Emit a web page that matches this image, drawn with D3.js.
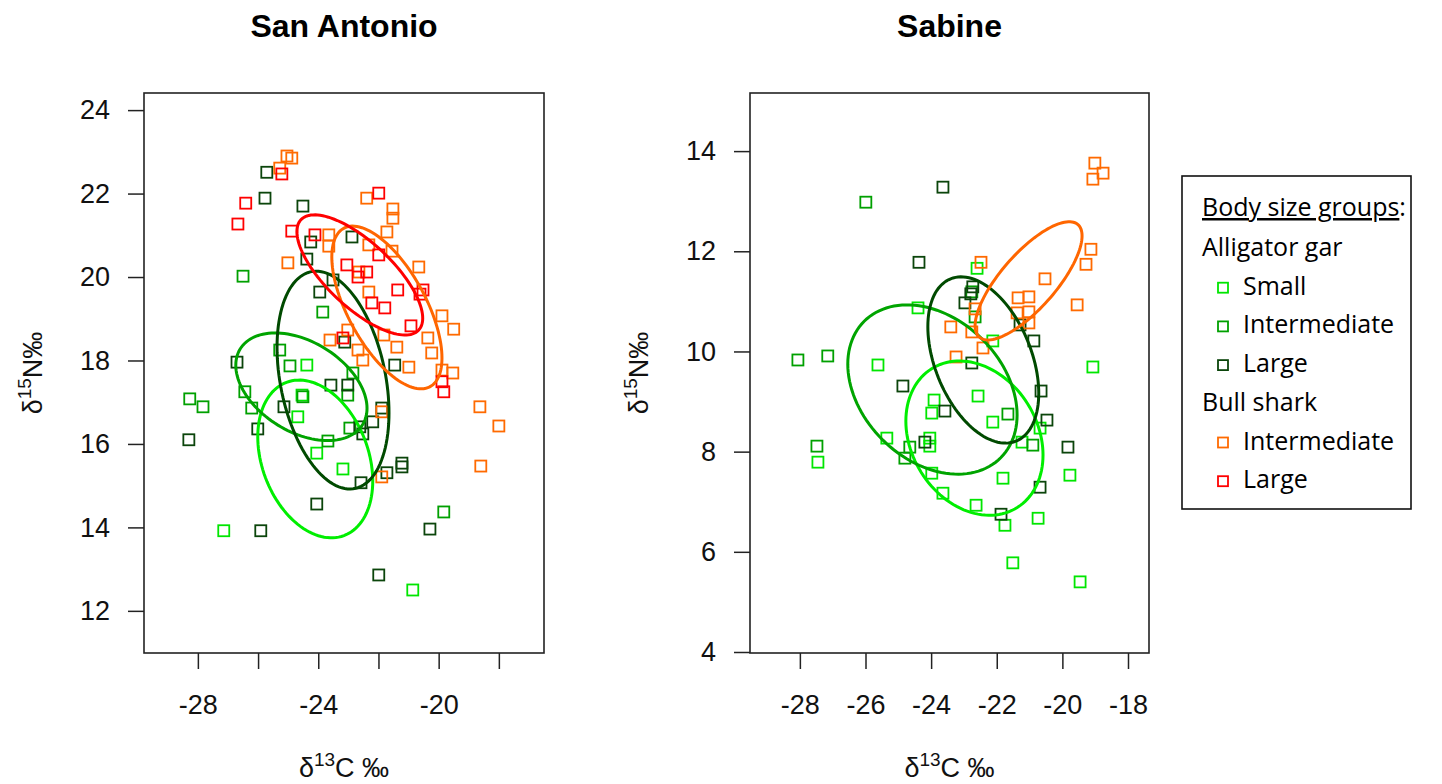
<!DOCTYPE html>
<html>
<head>
<meta charset="utf-8">
<script src="https://cdn.jsdelivr.net/npm/d3@7/dist/d3.min.js"></script>
<style>
  body { margin: 0; background: #fff; }
  svg { display: block; }
</style>
</head>
<body>
<svg id="chart" width="1442" height="784"></svg>
<script>
// ---- axis limits, ticks and tick labels ----
const saXDomain = [-29.79, -16.5];
const saYDomain = [10.99, 24.41];
const sbXDomain = [-29.52, -17.36];
const sbYDomain = [3.98, 15.16];
const xTicks = [-28, -26, -24, -22, -20, -18];
const saXTickLabels = ["-28", "", "-24", "", "-20", ""];
const sbXTickLabels = ["-28", "-26", "-24", "-22", "-20", "-18"];
const saYTicks = [12, 14, 16, 18, 20, 22, 24];
const sbYTicks = [4, 6, 8, 10, 12, 14];

const panelTitles = ["San Antonio", "Sabine"];

// ---- San Antonio: [d13C, d15N] ----
const saGarSmall = [[-24.38,17.89],[-24.68,16.65],[-24.05,15.78],[-23.18,15.40],[-27.14,13.92],
  [-20.86,12.50],[-24.54,17.17]];
const saGarInter = [[-26.50,20.02],[-23.85,19.16],[-24.94,17.87],[-26.44,17.25],[-28.27,17.08],
  [-27.83,16.89],[-26.21,16.86],[-24.51,17.13],[-25.28,18.25],[-22.85,17.70],[-22.95,16.38],
  [-19.83,14.37],[-23.02,17.17],[-23.68,16.07]];
const saGarLarge = [[-25.71,22.51],[-25.77,21.89],[-24.51,21.70],[-24.25,20.84],[-24.38,20.43],
  [-23.95,19.64],[-23.51,19.93],[-22.88,20.96],[-26.70,17.96],[-23.58,17.41],[-25.14,16.89],
  [-26.01,16.36],[-28.30,16.10],[-24.05,14.56],[-25.91,13.92],[-21.46,17.89],[-21.89,16.86],
  [-22.19,16.53],[-22.62,16.41],[-22.52,16.24],[-22.58,15.07],[-21.22,15.54],[-21.22,15.45],
  [-21.72,15.31],[-20.29,13.96],[-21.99,12.86],[-23.12,18.44],[-23.02,17.41]];
const saSharkInter = [[-25.04,22.90],[-24.88,22.85],[-25.28,22.61],[-22.39,21.89],[-21.52,21.63],
  [-21.52,21.41],[-21.72,21.08],[-22.32,20.77],[-21.55,20.62],[-20.66,20.24],[-22.65,20.12],
  [-22.32,19.64],[-19.89,19.07],[-19.50,18.75],[-20.36,18.54],[-21.39,18.32],[-21.82,18.61],
  [-23.02,18.73],[-23.65,21.01],[-23.65,20.74],[-25.01,20.34],[-23.61,18.49],[-18.63,16.89],
  [-18.00,16.43],[-18.60,15.47],[-21.89,15.21],[-20.23,18.18],[-22.52,18.01],[-22.68,18.25],
  [-20.99,17.84],[-19.89,17.77],[-19.53,17.70],[-21.89,16.77]];
const saSharkLarge = [[-26.41,21.77],[-26.67,21.27],[-25.21,22.47],[-24.88,21.10],[-24.11,21.01],
  [-21.99,22.01],[-21.99,20.53],[-23.05,20.29],[-22.68,20.00],[-22.39,20.12],[-21.36,19.69],
  [-22.22,19.38],[-21.79,19.26],[-20.52,19.69],[-20.62,19.59],[-20.92,18.83],[-23.18,18.54],
  [-19.89,17.49],[-19.83,17.25]];

// ---- Sabine: [d13C, d15N] ----
const sbGarSmall = [[-24.40,10.87],[-25.62,9.73],[-27.45,7.79],[-25.35,8.27],[-24.04,8.11],
  [-24.04,8.27],[-23.91,9.03],[-23.98,8.77],[-23.98,7.57],[-23.64,7.17],[-19.07,9.69],
  [-22.57,9.11],[-22.12,8.59],[-20.68,8.47],[-21.23,8.19],[-19.77,7.53],[-21.81,7.47],
  [-22.63,6.93],[-21.75,6.53],[-20.74,6.67],[-21.51,5.78],[-19.46,5.40],[-22.60,11.66],
  [-22.12,10.21]];
const sbGarInter = [[-25.99,12.98],[-28.06,9.83],[-27.15,9.91],[-27.48,8.11],[-24.65,8.09],
  [-21.66,8.75],[-20.90,8.13],[-22.76,11.19],[-22.66,10.69],[-24.80,7.87]];
const sbGarLarge = [[-23.64,13.28],[-24.37,11.78],[-22.73,11.29],[-22.79,11.15],[-22.97,10.97],
  [-21.29,10.53],[-20.87,10.21],[-22.76,9.77],[-24.86,9.31],[-24.19,8.19],[-23.58,8.81],
  [-20.65,9.21],[-20.47,8.63],[-19.83,8.09],[-20.68,7.29],[-21.87,6.75]];
const sbSharkInter = [[-19.01,13.76],[-18.76,13.56],[-19.07,13.44],[-19.13,12.04],[-19.28,11.74],
  [-20.53,11.45],[-19.55,10.93],[-21.35,11.07],[-21.02,11.09],[-21.02,10.79],[-21.38,10.77],
  [-21.02,10.57],[-22.48,11.78],[-23.40,10.49],[-22.66,10.85],[-22.76,10.39],[-22.42,10.07],
  [-23.24,9.89]];
const sbSharkLarge = [];

// ---- standard ellipses: [mean d13C, mean d15N, sd d13C, sd d15N, correlation] ----
const saEllipses = [
  [-24.10, 15.64, 1.91, 1.89, -0.28],
  [-24.56, 17.37, 2.18, 1.29, -0.40],
  [-23.51, 17.53, 1.86, 2.61, -0.30],
  [-21.72, 19.27, 1.83, 1.95, -0.62],
  [-22.62, 20.05, 2.09, 1.44, -0.72]
];
const sbEllipses = [
  [-22.68, 8.27, 2.09, 1.54, -0.22],
  [-23.96, 9.24, 2.58, 1.69, -0.30],
  [-22.41, 9.83, 1.69, 1.66, -0.40],
  [-21.03, 11.41, 1.63, 1.18, 0.76],
  null
];

// ---- legend ----
const legendTitle = "Body size groups";
const legendSpecies = ["Alligator gar", "Bull shark"];
const legendGar = ["Small", "Intermediate", "Large"];
const legendShark = ["Intermediate", "Large"];

// group colours: gar small, gar intermediate, gar large, shark intermediate, shark large
const colors = ["#00e600", "#00a000", "#0b450b", "#ff6a00", "#ff0000"];
const lineColors = ["#00ee00", "#00a400", "#004a00", "#ff6600", "#ff0000"];

const svg = d3.select("#chart");
const axisFont = "'Liberation Sans', Arial, sans-serif";

const panels = [
  { title: panelTitles[0], x0: 144, x1: 544, xd: saXDomain, yd: saYDomain, yTicks: saYTicks,
    xLabels: saXTickLabels, groups: [saGarSmall, saGarInter, saGarLarge, saSharkInter, saSharkLarge],
    ellipses: saEllipses },
  { title: panelTitles[1], x0: 750, x1: 1149, xd: sbXDomain, yd: sbYDomain, yTicks: sbYTicks,
    xLabels: sbXTickLabels, groups: [sbGarSmall, sbGarInter, sbGarLarge, sbSharkInter, sbSharkLarge],
    ellipses: sbEllipses }
];
const plotTop = 93, plotBottom = 653;

function ellipsePoints(p) {
  const [mx, my, sx, sy, r] = p;
  const k = Math.sqrt(1 - r * r);
  return d3.range(0, 121).map(i => {
    const t = i / 120 * 2 * Math.PI;
    return [mx + sx * Math.cos(t), my + sy * (r * Math.cos(t) + k * Math.sin(t))];
  });
}

panels.forEach(p => {
  const x = d3.scaleLinear().domain(p.xd).range([p.x0, p.x1]);
  const y = d3.scaleLinear().domain(p.yd).range([plotBottom, plotTop]);
  const g = svg.append("g");
  const cx = (p.x0 + p.x1) / 2;

  // title
  g.append("text").attr("x", cx).attr("y", 37).attr("text-anchor", "middle")
    .attr("font-family", axisFont).attr("font-weight", "bold").attr("font-size", 32)
    .attr("fill", "#000").text(p.title);

  // axes
  const xAxis = d3.axisBottom(x).tickValues(xTicks).tickSize(16).tickPadding(26)
    .tickFormat((d, i) => p.xLabels[i]);
  const gx = g.append("g").attr("transform", `translate(0,${plotBottom})`).call(xAxis);
  const yAxis = d3.axisLeft(y).tickValues(p.yTicks).tickSize(16).tickPadding(18)
    .tickFormat(d3.format("d"));
  const gy = g.append("g").attr("transform", `translate(${p.x0},0)`).call(yAxis);
  [gx, gy].forEach(a => {
    a.select(".domain").remove();
    a.selectAll(".tick line").attr("stroke", "#222").attr("stroke-width", 1.5);
    a.selectAll(".tick text").attr("font-family", axisFont).attr("font-size", 27).attr("fill", "#111");
  });

  // frame
  g.append("rect").attr("x", p.x0).attr("y", plotTop).attr("width", p.x1 - p.x0)
    .attr("height", plotBottom - plotTop).attr("fill", "none").attr("stroke", "#222").attr("stroke-width", 1.6);

  // axis titles
  const xt = g.append("text").attr("x", cx).attr("y", 777).attr("text-anchor", "middle")
    .attr("font-family", axisFont).attr("font-size", 27).attr("fill", "#111");
  xt.append("tspan").text("δ");
  xt.append("tspan").attr("font-size", 19).attr("dy", -11).text("13");
  xt.append("tspan").attr("dy", 11).text("C ‰");

  const yt = g.append("text").attr("transform", `translate(${p.x0 - 102},${(plotTop + plotBottom) / 2}) rotate(-90)`)
    .attr("text-anchor", "middle").attr("font-family", axisFont).attr("font-size", 27).attr("fill", "#111");
  yt.append("tspan").text("δ");
  yt.append("tspan").attr("font-size", 19).attr("dy", -11).text("15");
  yt.append("tspan").attr("dy", 11).text("N‰");

  // points
  const s = 11;
  p.groups.forEach((pts, gi) => {
    g.append("g").selectAll("rect").data(pts).join("rect")
      .attr("x", d => x(d[0]) - s / 2).attr("y", d => y(d[1]) - s / 2)
      .attr("width", s).attr("height", s)
      .attr("fill", "none").attr("stroke", colors[gi]).attr("stroke-width", 1.8);
  });

  // ellipses
  const line = d3.line().x(d => x(d[0])).y(d => y(d[1])).curve(d3.curveLinearClosed);
  p.ellipses.forEach((e, gi) => {
    if (!e) return;
    g.append("path").attr("d", line(ellipsePoints(e)))
      .attr("fill", "none").attr("stroke", lineColors[gi]).attr("stroke-width", 3);
  });
});

// legend
const lg = svg.append("g");
const legFont = "'Open Sans', 'Noto Sans', sans-serif";
const legSize = 25;
lg.append("rect").attr("x", 1182).attr("y", 176).attr("width", 229).attr("height", 333)
  .attr("fill", "#fff").attr("stroke", "#111").attr("stroke-width", 1.6);
const lt = lg.append("text").attr("x", 1202).attr("y", 216).attr("font-family", legFont)
  .attr("font-size", legSize).attr("fill", "#000");
lt.append("tspan").attr("text-decoration", "underline").text(legendTitle);
lt.append("tspan").text(":");

const rows = [
  { text: legendSpecies[0] },
  { text: legendGar[0], c: 0 },
  { text: legendGar[1], c: 1 },
  { text: legendGar[2], c: 2 },
  { text: legendSpecies[1] },
  { text: legendShark[0], c: 3 },
  { text: legendShark[1], c: 4 }
];
rows.forEach((r, i) => {
  const by = 256 + i * 38.7;
  if (r.c === undefined) {
    lg.append("text").attr("x", 1202).attr("y", by).attr("font-family", legFont)
      .attr("font-size", legSize).attr("fill", "#000").text(r.text);
  } else {
    lg.append("rect").attr("x", 1218).attr("y", by - 12).attr("width", 10).attr("height", 10)
      .attr("fill", "none").attr("stroke", colors[r.c]).attr("stroke-width", 1.8);
    lg.append("text").attr("x", 1243).attr("y", by).attr("font-family", legFont)
      .attr("font-size", legSize).attr("fill", "#000").text(r.text);
  }
});
</script>
</body>
</html>
